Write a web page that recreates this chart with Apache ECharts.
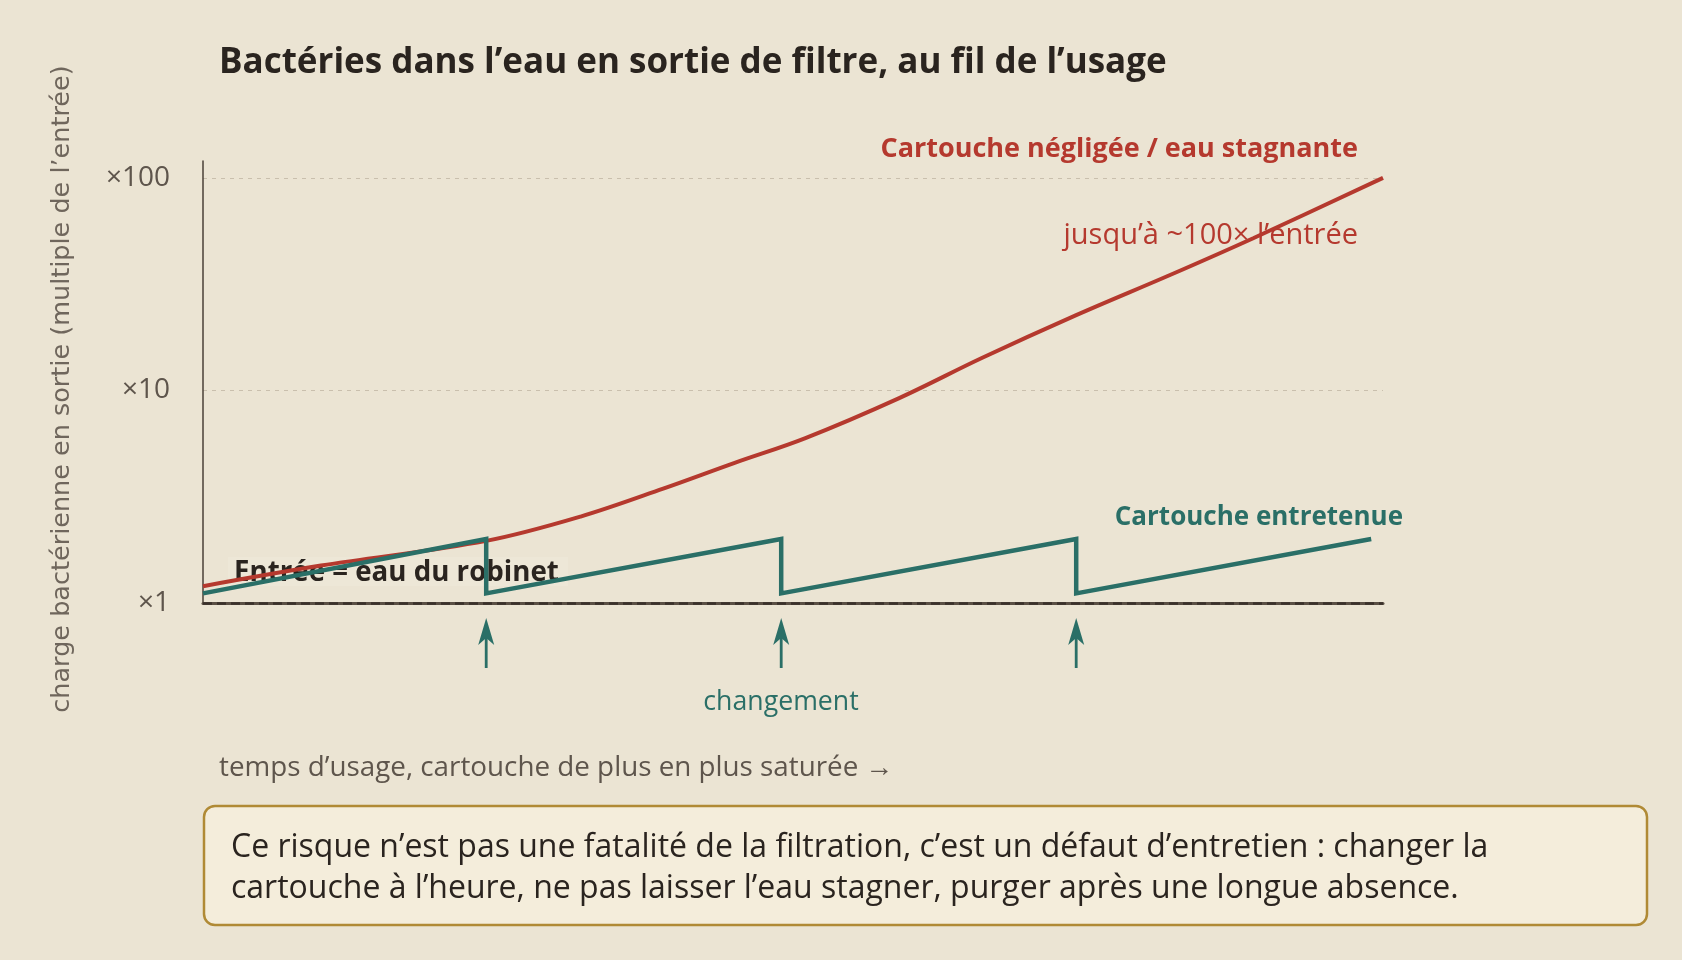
<!DOCTYPE html>
<html>
<head>
<meta charset="utf-8">
<script src="https://cdn.jsdelivr.net/npm/echarts@6/dist/echarts.min.js"></script>
<style>
  html, body { margin: 0; padding: 0; background: #ebe4d3; }
  #main { width: 1682px; height: 960px; }
</style>
</head>
<body>
<div id="main"></div>
<script>
// temps d'usage (0 -> 100) et charge bactérienne (multiple de l'entrée)
var usage      = [0, 10, 24, 32, 39, 45, 51, 59, 66, 74, 82, 89, 100];
var neglected  = [1.2, 1.5, 1.96, 2.55, 3.45, 4.55, 5.95, 9.2, 14.2, 22.6, 35, 52, 100];
var keptX      = [0, 24, 24, 49, 49, 74, 74, 99];
var keptY      = [1.11, 2.0, 1.11, 2.0, 1.11, 2.0, 1.11, 2.0];
var changes    = [24, 49, 74];
var yTicks     = [1, 10, 100];

var red = '#b5392e';
var teal = '#2a6f67';
var ink = '#2a241f';
var grey = '#5e554c';
var font = '"Open Sans"';

function zip(a, b) {
    return a.map(function (v, i) { return [v, b[i]]; });
}

var myChart = echarts.init(document.getElementById('main'));

option = {
    backgroundColor: '#ebe4d3',
    animation: false,
    textStyle: { fontFamily: font },
    title: {
        text: 'Bactéries dans l’eau en sortie de filtre, au fil de l’usage',
        left: 219,
        top: 46,
        padding: 0,
        textStyle: { fontFamily: font, fontWeight: 'bold', fontSize: 35, color: ink }
    },
    grid: [
        { left: 203, right: 299, top: 161, bottom: 357 },
        { left: 203, right: 299, top: 618, bottom: 292 }
    ],
    xAxis: [
        {
            type: 'value', gridIndex: 0, min: 0, max: 100,
            axisLine: { show: true, lineStyle: { color: '#5a4f44', width: 3 } },
            axisTick: { show: false },
            axisLabel: { show: false },
            splitLine: { show: false }
        },
        {
            type: 'value', gridIndex: 1, min: 0, max: 100, show: false
        }
    ],
    yAxis: [
        {
            type: 'log', gridIndex: 0, logBase: 10, min: 1, max: 120,
            axisLine: { show: true, lineStyle: { color: '#4a4037', width: 1.5 } },
            axisTick: { show: false },
            axisLabel: {
                margin: 33,
                fontSize: 28,
                color: grey,
                showMaxLabel: false,
                formatter: function (v) {
                    for (var i = 0; i < yTicks.length; i++) {
                        if (Math.abs(v - yTicks[i]) < 1e-6 * yTicks[i]) return '×' + yTicks[i];
                    }
                    return '';
                }
            },
            splitLine: {
                show: true, showMinLine: false, showMaxLine: false,
                lineStyle: { color: '#c9bfad', width: 1.2, type: [4, 5] }
            },
            name: 'charge bactérienne en sortie (multiple de l’entrée)',
            nameLocation: 'middle',
            nameRotate: 90,
            nameGap: 128,
            nameTextStyle: { fontFamily: 'DejaVu Sans', fontSize: 25.5, color: '#6f665c', padding: [0, 14, 0, 0] }
        },
        {
            type: 'value', gridIndex: 1, min: 0, max: 1, show: false
        }
    ],
    graphic: [
        {
            type: 'text', x: 1358, y: 149,
            style: { text: 'Cartouche négligée / eau stagnante', fill: red, font: 'bold 27px ' + font,
                     align: 'right', verticalAlign: 'middle' }
        },
        {
            type: 'text', x: 1358, y: 236,
            style: { text: 'jusqu’à ~100× l’entrée', fill: red, font: '29px ' + font,
                     align: 'right', verticalAlign: 'middle' }
        },
        {
            type: 'text', x: 1403, y: 518,
            style: { text: 'Cartouche entretenue', fill: teal, font: 'bold 26px ' + font,
                     align: 'right', verticalAlign: 'middle' }
        },
        {
            type: 'rect', x: 228, y: 557,
            shape: { width: 340, height: 29 },
            style: { fill: 'rgba(245,240,228,0.25)' }
        },
        {
            type: 'text', x: 234, y: 573,
            style: { text: 'Entrée = eau du robinet', fill: ink, font: 'bold 27.7px ' + font,
                     align: 'left', verticalAlign: 'middle' }
        },
        {
            type: 'text', x: 781, y: 702,
            style: { text: 'changement', fill: teal, font: '26.7px ' + font,
                     align: 'center', verticalAlign: 'middle' }
        },
        {
            type: 'text', x: 219, y: 768,
            style: { text: 'temps d’usage, cartouche de plus en plus saturée →', fill: grey, font: '27.8px ' + font,
                     align: 'left', verticalAlign: 'middle' }
        },
        {
            type: 'rect', x: 204, y: 806,
            shape: { width: 1443, height: 119, r: 11 },
            style: { fill: '#f4eddb', stroke: '#b08a35', lineWidth: 2.5 }
        },
        {
            type: 'text', x: 231, y: 868,
            style: {
                text: 'Ce risque n’est pas une fatalité de la filtration, c’est un défaut d’entretien : changer la\ncartouche à l’heure, ne pas laisser l’eau stagner, purger après une longue absence.',
                fill: ink, font: '32px ' + font, lineHeight: 41,
                align: 'left', verticalAlign: 'middle'
            }
        }
    ],
    series: [
        {
            name: 'Cartouche négligée / eau stagnante',
            type: 'line',
            xAxisIndex: 0, yAxisIndex: 0,
            data: zip(usage, neglected),
            smooth: 0.35,
            showSymbol: false,
            lineStyle: { color: red, width: 4 },
            z: 3,
            markLine: {
                silent: true,
                symbol: 'none',
                label: { show: false },
                lineStyle: { color: '#3a312a', width: 2.5, type: [9, 5] },
                data: [{ yAxis: yTicks[0] }]
            }
        },
        {
            name: 'Cartouche entretenue',
            type: 'line',
            xAxisIndex: 0, yAxisIndex: 0,
            data: zip(keptX, keptY),
            showSymbol: false,
            lineStyle: { color: teal, width: 4.5, join: 'miter' },
            z: 4
        },
        {
            name: 'changement',
            type: 'custom',
            xAxisIndex: 1, yAxisIndex: 1,
            data: changes.map(function (c) { return [c]; }),
            encode: { x: 0 },
            renderItem: function (params, api) {
                var tip = api.coord([api.value(0), 1]);
                var foot = api.coord([api.value(0), 0]);
                var x = tip[0], y = tip[1];
                return {
                    type: 'group',
                    children: [
                        { type: 'line', shape: { x1: x, y1: foot[1], x2: x, y2: y + 14 },
                          style: { stroke: teal, lineWidth: 2.8 } },
                        { type: 'polygon', shape: { points: [[x, y], [x + 8, y + 27], [x, y + 20], [x - 8, y + 27]] },
                          style: { fill: teal } }
                    ]
                };
            }
        }
    ]
};
myChart.setOption(option);
</script>
</body>
</html>
